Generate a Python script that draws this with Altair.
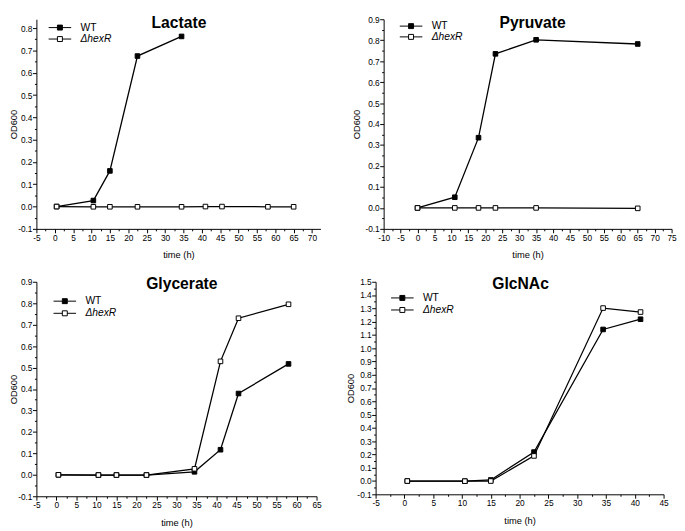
import altair as alt
import pandas as pd

FONT = "Liberation Sans"
STRAINS = ["WT", "ΔhexR"]

# ---- data ----
lac_wt_t = [0.5, 10.5, 15, 22.5, 34.5]
lac_wt_od = [0.0, 0.027, 0.16, 0.675, 0.763]
lac_hx_t = [0.5, 10.5, 15, 22.5, 34.5, 41, 45.5, 58, 65]
lac_hx_od = [0.0, -0.001, -0.001, -0.001, -0.001, 0.0, 0.0, -0.001, -0.001]

pyr_wt_t = [0, 11, 18, 23, 35, 65]
pyr_wt_od = [0.0, 0.051, 0.335, 0.735, 0.802, 0.782]
pyr_hx_t = [0, 11, 18, 23, 35, 65]
pyr_hx_od = [0.0, 0.0, 0.0, 0.0, 0.0, -0.002]

gly_wt_t = [0.5, 10.5, 15, 22.5, 34.5, 41, 45.5, 58]
gly_wt_od = [0.0, -0.001, -0.001, -0.001, 0.014, 0.117, 0.379, 0.517]
gly_hx_t = [0.5, 10.5, 15, 22.5, 34.5, 41, 45.5, 58]
gly_hx_od = [0.0, -0.001, -0.001, -0.001, 0.028, 0.529, 0.730, 0.795]

glc_wt_t = [0.5, 10.5, 15, 22.5, 34.5, 41]
glc_wt_od = [0.0, -0.001, 0.008, 0.218, 1.141, 1.218]
glc_hx_t = [0.5, 10.5, 15, 22.5, 34.5, 41]
glc_hx_od = [0.0, -0.001, 0.0, 0.189, 1.302, 1.272]

LEG_PATH = "M-1,0H-0.22M0.22,0H1M-0.22,-0.22H0.22V0.22H-0.22Z"


def steps(lo, hi, step):
    out = []
    v = lo
    while v <= hi + 1e-9:
        out.append(round(v, 3))
        v += step
    return out


def legend(values, x, y, style, fill=None):
    kw = dict(
        title=None, orient="none", legendX=x, legendY=y, values=values,
        symbolType=LEG_PATH, symbolSize=529,
        symbolStrokeColor="black", symbolStrokeWidth=1, symbolOpacity=1,
        labelFont=FONT, labelFontSize=10.5, labelColor="black",
        labelOffset=9, padding=0, labelFontStyle=style,
    )
    if fill:
        kw["symbolFillColor"] = fill
    return alt.Legend(**kw)


def panel(title, wt_t, wt_od, hx_t, hx_od, xdom, xticks, ydom, yticks,
          w, h, t_x, t_y, leg_x, leg_y1, leg_y2, ytp):
    n1, n2 = len(wt_t), len(hx_t)
    df = pd.DataFrame({
        "time": list(wt_t) + list(hx_t),
        "od": list(wt_od) + list(hx_od),
        "strain": [STRAINS[0]] * n1 + [STRAINS[1]] * n2,
        "strain2": [STRAINS[0]] * n1 + [STRAINS[1]] * n2,
        "order": list(range(n1 + n2)),
    })
    x_major = "abs(datum.value/5 - round(datum.value/5)) < 0.001"
    y_major = "abs(datum.value*10 - round(datum.value*10)) < 0.001"
    xaxis = alt.Axis(
        values=xticks, title="time (h)", grid=False,
        labelExpr=f"{x_major} ? (datum.value < 0 ? '-' : '') + format(abs(datum.value), 'd') : ''",
        tickSize={"condition": {"test": x_major, "value": 4}, "value": 2},
        labelPadding=0.5, titlePadding=8.5, labelOverlap=False, labelFlush=False,
        labelBound=False,
    )
    yaxis = alt.Axis(
        values=yticks, title="OD600", grid=False,
        labelExpr=f"{y_major} ? (datum.value < -0.001 ? '-' : '') + format(abs(datum.value), '.1f') : ''",
        tickSize={"condition": {"test": y_major, "value": 4}, "value": 2},
        labelPadding=0.5, titlePadding=ytp, labelOverlap=False, labelFlush=False,
        labelBound=False,
    )
    x = alt.X("time:Q", scale=alt.Scale(domain=xdom, nice=False, zero=False), axis=xaxis)
    y = alt.Y("od:Q", scale=alt.Scale(domain=ydom, nice=False, zero=False), axis=yaxis)
    base = alt.Chart(df)
    lines = base.mark_line(color="black", strokeWidth=1.3).encode(
        x=x, y=y, detail="strain:N", order="order:Q")
    pts = base.mark_point(shape="square", filled=True, size=22,
                          strokeWidth=1, opacity=1).encode(
        x=x, y=y,
        fill=alt.Fill("strain:N",
                      scale=alt.Scale(domain=STRAINS, range=["black", "white"]),
                      legend=legend([STRAINS[0]], leg_x, leg_y1, "normal")),
        # reversed domain so that this legend is kept apart from the fill legend
        stroke=alt.Stroke("strain2:N",
                          scale=alt.Scale(domain=STRAINS[::-1], range=["black", "black"]),
                          legend=legend([STRAINS[1]], leg_x, leg_y2, "italic", "white")),
        order="order:Q",
    )
    ttl = alt.Chart(pd.DataFrame({"name": [title]})).mark_text(
        font=FONT, fontSize=16, fontWeight="bold", color="black",
        align="center", baseline="alphabetic",
    ).encode(text="name:N", x=alt.value(t_x), y=alt.value(t_y))
    return alt.layer(lines, pts, ttl).properties(width=w, height=h)


lac = panel("Lactate", lac_wt_t, lac_wt_od, lac_hx_t, lac_hx_od,
            [-5, 72.3], steps(-5, 70, 2.5), [-0.1, 0.84], steps(-0.1, 0.8, 0.05),
            290, 214, 145.5, 9, 12, -3.5, 8.2, -1.3)
pyr = panel("Pyruvate", pyr_wt_t, pyr_wt_od, pyr_hx_t, pyr_hx_od,
            [-10, 75], steps(-10, 75, 2.5), [-0.1, 0.9], steps(-0.1, 0.9, 0.05),
            294, 214, 152, 9, 16, -5, 6, 3.7)
gly = panel("Glycerate", gly_wt_t, gly_wt_od, gly_hx_t, gly_hx_od,
            [-5, 65], steps(-5, 65, 2.5), [-0.1, 0.9], steps(-0.1, 0.9, 0.05),
            286, 219, 148.5, 7, 17, 7.8, 20.2, -1.3)
glc = panel("GlcNAc", glc_wt_t, glc_wt_od, glc_hx_t, glc_hx_od,
            [-5, 45], steps(-5, 45, 2.5), [-0.1, 1.5], steps(-0.1, 1.5, 0.05),
            294, 217, 148, 7, 15.3, 4.5, 16.8, 1.7)


def indep(c):
    return c.resolve_scale(fill="independent", stroke="independent").resolve_legend(
        fill="independent", stroke="independent")


row1 = indep(alt.hconcat(lac, pyr, spacing=29.5))
row2 = indep(alt.hconcat(gly, glc, spacing=22.3))

chart = indep(alt.vconcat(row1, row2, spacing=15)).properties(
    padding=0, background="white"
).configure_view(stroke="transparent").configure_axis(
    labelFont=FONT, labelFontSize=8.5, labelColor="black",
    titleFont=FONT, titleFontSize=9.5, titleFontWeight="normal", titleColor="black",
    domainColor="black", domainWidth=1, tickColor="black", tickWidth=1,
)

chart.save("out.html", embed_options={"renderer": "svg", "actions": False})
